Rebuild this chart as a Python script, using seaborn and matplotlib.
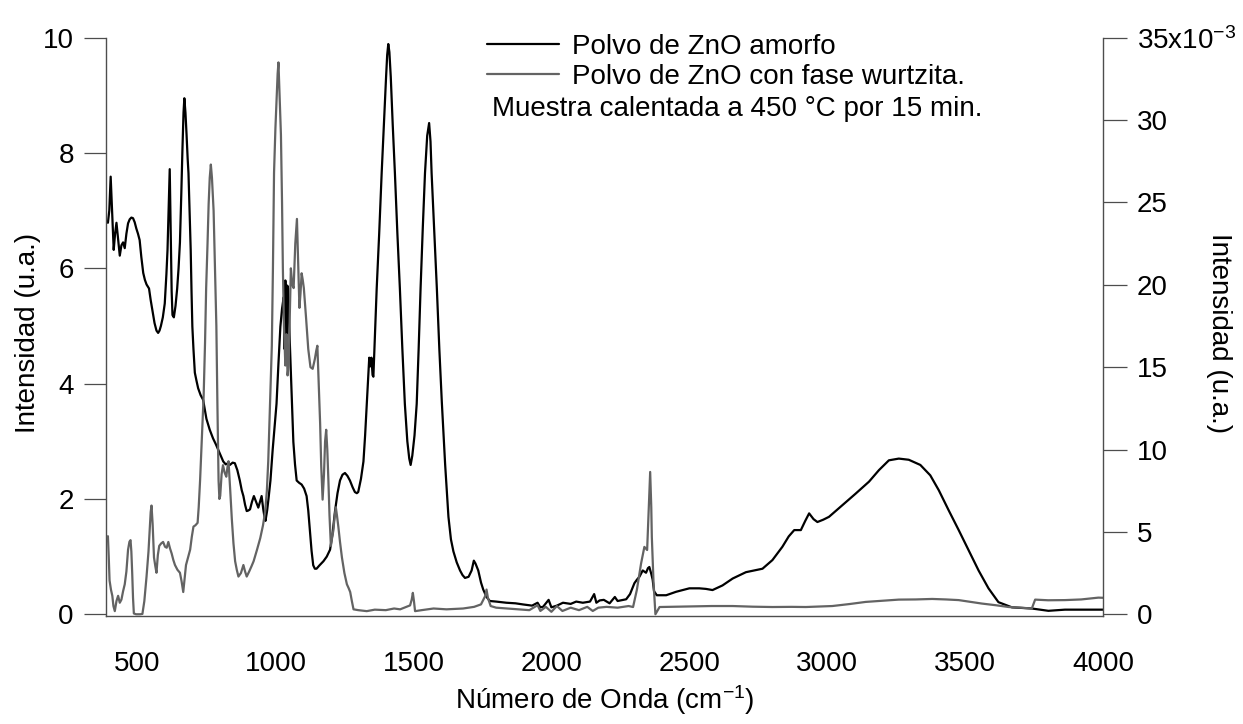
import matplotlib
matplotlib.use("Agg")
import matplotlib.pyplot as plt
import seaborn as sns
import pandas as pd

# ---------------- data ----------------
amorfo_x = [393, 398, 403, 408, 414, 419, 424, 430, 436, 442, 448, 454, 460, 466, 472, 478, 484, 490, 496, 502,
            508, 514, 521, 527, 533, 538, 542, 548, 555, 562, 569, 575, 580, 585, 592, 599, 605, 609, 613, 617,
            620, 624, 627, 632, 638, 644, 649, 654, 659, 663, 667, 670, 674, 678, 682, 685, 689, 693, 696, 699,
            703, 708, 714, 720, 729, 738, 744, 750, 762, 774, 784, 793, 802, 811, 820, 828, 835, 845, 853, 862,
            871, 878, 884, 890, 896, 902, 908, 915, 922, 930, 938, 944, 950, 956, 960, 964, 970, 976, 982, 990,
            997, 1004, 1011, 1018, 1024, 1030, 1033, 1036, 1040, 1043, 1046, 1050, 1055, 1060, 1065, 1071, 1077,
            1086, 1095, 1104, 1113, 1119, 1125, 1131, 1137, 1143, 1149, 1160, 1174, 1186, 1198, 1207, 1216, 1225,
            1234, 1243, 1252, 1261, 1270, 1280, 1288, 1295, 1300, 1310, 1319, 1325, 1331, 1336, 1340, 1344, 1348,
            1352, 1355, 1361, 1367, 1376, 1385, 1393, 1401, 1405, 1409, 1413, 1418, 1425, 1433, 1442, 1451, 1460,
            1469, 1478, 1485, 1490, 1496, 1504, 1512, 1519, 1526, 1534, 1542, 1550, 1557, 1562, 1566, 1575, 1585,
            1594, 1603, 1615, 1627, 1636, 1645, 1657, 1669, 1678, 1687, 1700, 1711, 1719, 1725, 1735, 1745, 1753,
            1765, 1777, 1800, 1837, 1870, 1898, 1930, 1950, 1960, 1970, 1990, 2000, 2020, 2042, 2070, 2090, 2114,
            2140, 2155, 2163, 2175, 2190, 2211, 2230, 2240, 2260, 2271, 2285, 2301, 2310, 2319, 2331, 2343, 2350,
            2355, 2362, 2367, 2372, 2382, 2400, 2416, 2452, 2500, 2536, 2560, 2584, 2620, 2657, 2705, 2765, 2801,
            2837, 2860, 2880, 2904, 2920, 2934, 2950, 2964, 2985, 3006, 3054, 3102, 3151, 3187, 3223, 3259, 3295,
            3337, 3373, 3404, 3440, 3476, 3512, 3548, 3584, 3620, 3669, 3741, 3801, 3861, 3920, 3982, 4000]
amorfo_y = [6.79, 7.0, 7.59, 7.0, 6.32, 6.6, 6.79, 6.5, 6.22, 6.4, 6.45, 6.35, 6.6, 6.78, 6.85, 6.88, 6.87, 6.8, 6.69, 6.6,
            6.49, 6.2, 5.92, 5.8, 5.72, 5.68, 5.65, 5.45, 5.25, 5.05, 4.92, 4.88, 4.92, 5.0, 5.15, 5.39, 5.9, 6.32, 7.0, 7.72,
            6.8, 5.6, 5.19, 5.15, 5.35, 5.65, 6.0, 6.45, 7.3, 8.05, 8.7, 8.95, 8.7, 8.32, 7.9, 7.65, 7.0, 6.32, 5.6, 4.99,
            4.6, 4.19, 4.05, 3.92, 3.8, 3.72, 3.55, 3.39, 3.2, 3.05, 2.95, 2.85, 2.75, 2.65, 2.6, 2.62, 2.59, 2.63, 2.62, 2.5,
            2.32, 2.15, 2.05, 1.9, 1.79, 1.8, 1.82, 1.95, 2.05, 1.95, 1.85, 1.95, 2.05, 1.82, 1.7, 1.62, 1.8, 2.05, 2.32, 2.85,
            3.25, 3.65, 4.35, 4.99, 5.3, 5.5, 4.6, 5.79, 4.7, 5.7, 5.65, 5.0, 4.32, 3.6, 2.99, 2.6, 2.32,
            2.28, 2.25, 2.18, 2.05, 1.8, 1.45, 1.1, 0.85, 0.79, 0.79, 0.85, 0.92, 1.0, 1.12, 1.4, 1.79, 2.1,
            2.32, 2.42, 2.45, 2.4, 2.32, 2.2, 2.12, 2.1, 2.12, 2.35, 2.65, 3.1, 3.65, 4.1, 4.45, 4.3, 4.45,
            4.15, 4.12, 4.9, 5.65, 6.6, 7.65, 8.5, 9.32, 9.7, 9.89, 9.75, 9.32, 8.5, 7.65, 6.6, 5.65, 4.6,
            3.65, 3.0, 2.7, 2.59, 2.75, 3.1, 3.65, 4.6, 5.65, 6.7, 7.65, 8.3, 8.52, 8.2, 7.65, 6.7, 5.65,
            4.6, 3.68, 2.6, 1.69, 1.3, 1.09, 0.9, 0.76, 0.68, 0.63, 0.65, 0.76, 0.93, 0.88, 0.76, 0.55, 0.43,
            0.3, 0.23, 0.22, 0.2, 0.19, 0.17, 0.15, 0.2, 0.12, 0.13, 0.25, 0.12, 0.15, 0.2, 0.18, 0.22, 0.2,
            0.22, 0.35, 0.2, 0.24, 0.25, 0.19, 0.3, 0.23, 0.25, 0.26, 0.35, 0.54, 0.6, 0.65, 0.76, 0.72, 0.8,
            0.82, 0.7, 0.6, 0.4, 0.33, 0.33, 0.33, 0.39, 0.45, 0.45, 0.44, 0.42, 0.5, 0.62, 0.73, 0.79, 0.94,
            1.17, 1.35, 1.46, 1.46, 1.62, 1.75, 1.65, 1.6, 1.64, 1.69, 1.89, 2.09, 2.3, 2.5, 2.67, 2.7, 2.68,
            2.59, 2.41, 2.15, 1.8, 1.46, 1.11, 0.76, 0.45, 0.21, 0.12, 0.1, 0.06, 0.08, 0.08, 0.08, 0.08]

wurtz_x = [393, 396, 399, 404, 409, 413, 418, 424, 430, 436, 442, 448, 454, 460, 466, 471, 475, 478, 481, 484,
           487, 495, 502, 510, 518, 525, 533, 540, 545, 548, 551, 555, 560, 565, 569, 574, 579, 586, 593, 600,
           606, 612, 618, 624, 630, 636, 645, 654, 660, 666, 671, 676, 684, 691, 697, 703, 710, 718, 722, 727,
           733, 740, 745, 749, 754, 758, 762, 766, 770, 776, 781, 786, 790, 794, 797, 800, 805, 810, 816, 822,
           826, 830, 836, 842, 848, 854, 860, 866, 875, 884, 890, 896, 905, 913, 921, 933, 945, 955, 963, 969,
           974, 980, 987, 991, 995, 1000, 1005, 1008, 1011, 1015, 1020, 1024, 1027, 1031, 1036, 1040, 1044, 1048,
           1052, 1056, 1061, 1066, 1072, 1078, 1082, 1087, 1091, 1095, 1099, 1103, 1111, 1119, 1127, 1135, 1143,
           1148, 1152, 1157, 1162, 1166, 1171, 1176, 1180, 1184, 1188, 1192, 1196, 1201, 1205, 1210, 1215, 1219,
           1223, 1228, 1234, 1241, 1250, 1259, 1265, 1271, 1277, 1283, 1300, 1331, 1360, 1400, 1430, 1452, 1475,
           1488, 1494, 1498, 1502, 1506, 1530, 1573, 1620, 1680, 1720, 1745, 1760, 1765, 1770, 1780, 1800, 1840,
           1880, 1920, 1950, 1960, 1980, 2000, 2020, 2040, 2070, 2100, 2130, 2150, 2170, 2200, 2240, 2280, 2296,
           2310, 2325, 2337, 2347, 2352, 2358, 2362, 2364, 2370, 2377, 2392, 2450, 2500, 2580, 2657, 2730, 2801,
           2870, 2922, 3018, 3080, 3139, 3200, 3259, 3320, 3380, 3430, 3476, 3520, 3560, 3610, 3657, 3700, 3741,
           3753, 3800, 3861, 3920, 3982, 4000]
wurtz_y = [4.74, 3.5, 2.05, 1.5, 1.12, 0.5, 0.19, 0.8, 1.12, 0.7, 0.89, 1.4, 1.82, 2.6, 3.92, 4.4, 4.5, 3.8, 2.52, 1.0,
           0.05, 0.0, 0.0, 0.0, 0.02, 0.8, 2.29, 3.8, 5.32, 6.2, 6.6, 5.5, 3.45, 2.9, 2.52, 3.6, 4.15, 4.3, 4.39, 4.1,
           4.04, 4.39, 4.0, 3.69, 3.3, 2.99, 2.7, 2.52, 2.0, 1.35, 2.2, 2.99, 3.5, 3.92, 4.7, 5.32, 5.4, 5.55, 6.5, 8.12,
           10.5, 13.3, 16.5, 19.8, 22.5, 24.9, 26.5, 27.3, 26.5, 24.5, 21.0, 17.5, 12.5, 8.12, 7.0, 7.19, 8.5, 9.05, 8.6, 8.35,
           8.9, 9.29, 7.6, 5.79, 4.3, 3.22, 2.7, 2.29, 2.5, 2.99, 2.6, 2.29, 2.6, 2.9, 3.22, 3.9, 4.62, 5.4, 6.25, 7.5,
           9.29, 12.5, 16.3, 21.0, 26.8, 29.5, 31.5, 32.8, 33.5, 31.5, 29.1, 25.0, 21.0, 17.5, 15.1, 17.0, 14.5, 15.1,
           18.0, 21.0, 20.0, 19.8, 22.5, 24.0, 21.5, 18.6, 19.5, 20.7, 20.3, 19.8, 18.0, 16.1, 15.0, 14.9, 15.5,
           16.0, 16.3, 14.0, 11.6, 9.0, 6.96, 8.5, 10.5, 11.2, 10.0, 8.12, 6.0, 4.15, 4.6, 5.09, 6.0, 6.49,
           6.0, 5.32, 4.4, 3.45, 2.5, 1.82, 1.6, 1.35, 0.8, 0.3, 0.25, 0.19, 0.28, 0.25, 0.35, 0.3, 0.45,
           0.54, 0.9, 1.3, 0.8, 0.19, 0.25, 0.35, 0.3, 0.35, 0.45, 0.6, 1.1, 1.5, 1.0, 0.5, 0.4, 0.35,
           0.3, 0.25, 0.55, 0.2, 0.45, 0.15, 0.5, 0.2, 0.4, 0.25, 0.45, 0.2, 0.4, 0.45, 0.4, 0.5, 0.44,
           1.5, 3.08, 4.09, 3.9, 6.0, 8.64, 6.5, 4.7, 2.0, 0.0, 0.44, 0.46, 0.48, 0.5, 0.5, 0.46, 0.44,
           0.45, 0.44, 0.5, 0.62, 0.75, 0.82, 0.89, 0.9, 0.93, 0.9, 0.86, 0.75, 0.65, 0.55, 0.44, 0.4, 0.35,
           0.89, 0.85, 0.86, 0.9, 1.01, 1.0]

x_ticks = [500, 1000, 1500, 2000, 2500, 3000, 3500, 4000]
left_ticks = [0, 2, 4, 6, 8, 10]
right_ticks = [0, 5, 10, 15, 20, 25, 30, 35]
right_tick_labels = ["0", "5", "10", "15", "20", "25", "30", "35x10$^{\\mathrm{-3}}$"]

label_amorfo = "Polvo de ZnO amorfo"
label_wurtz = "Polvo de ZnO con fase wurtzita."
note_text = "Muestra calentada a 450 °C por 15 min."
x_label = "Número de Onda (cm$^{\\mathrm{-1}}$)"
y_label = "Intensidad (u.a.)"

# ---------------- style ----------------
sns.set_theme(style="white")
plt.rcParams["font.family"] = ["Liberation Sans", "DejaVu Sans"]
plt.rcParams["mathtext.fontset"] = "custom"
plt.rcParams["mathtext.rm"] = "Liberation Sans"
plt.rcParams["mathtext.it"] = "Liberation Sans:italic"
plt.rcParams["mathtext.bf"] = "Liberation Sans:bold"
plt.rcParams["axes.unicode_minus"] = False
plt.rcParams["text.color"] = "black"
plt.rcParams["axes.labelcolor"] = "black"
plt.rcParams["xtick.color"] = "black"
plt.rcParams["ytick.color"] = "black"

W, H = 1243, 724
FS = 20
spine_col = "#4d4d4d"
gray_col = "#636363"

fig = plt.figure(figsize=(W / 100, H / 100), dpi=100)
ax_l, ax_r, ax_t, ax_b = 105.7, 1103.3, 37.7, 616.0
ax = fig.add_axes([ax_l / W, 1 - ax_b / H, (ax_r - ax_l) / W, (ax_b - ax_t) / H])
ax2 = ax.twinx()

df_a = pd.DataFrame({"wavenumber": amorfo_x, "intensity": amorfo_y})
df_w = pd.DataFrame({"wavenumber": wurtz_x, "intensity": [v * 1e-3 for v in wurtz_y]})

sns.lineplot(data=df_a, x="wavenumber", y="intensity", ax=ax, color="black",
             lw=1.6, sort=False, estimator=None, legend=False)
sns.lineplot(data=df_w, x="wavenumber", y="intensity", ax=ax2, color=gray_col,
             lw=1.6, sort=False, estimator=None, legend=False)

ax.set_xlim(385, 4000)
ax.set_ylim(-0.03, 10)
ax2.set_ylim(-0.105e-3, 35e-3)

ax.set_xticks(x_ticks)
ax.set_xticklabels([str(t) for t in x_ticks])
ax.set_yticks(left_ticks)
ax.set_yticklabels([str(t) for t in left_ticks])
ax2.set_yticks([t * 1e-3 for t in right_ticks])
ax2.set_yticklabels(right_tick_labels)

for a in (ax, ax2):
    a.grid(False)
    a.set_facecolor("none")
    for s in a.spines.values():
        s.set_color(spine_col)
        s.set_linewidth(1.0)
    a.spines["top"].set_visible(False)
ax.spines["right"].set_visible(False)
ax2.spines["left"].set_visible(False)
ax2.spines["bottom"].set_visible(False)

ax.tick_params(axis="x", direction="out", length=16, width=0.9, color=spine_col,
               labelsize=FS, pad=9, labelcolor="black")
ax.tick_params(axis="y", direction="out", length=16, width=0.9, color=spine_col,
               labelsize=FS, pad=7, labelcolor="black")
ax2.tick_params(axis="y", direction="out", length=17, width=0.9, color=spine_col,
                labelsize=FS, pad=7, labelcolor="black")

ax.set_xlabel(x_label, fontsize=FS, color="black")
ax.xaxis.label.set_verticalalignment("center")
ax.xaxis.set_label_coords(0.5, (ax_b - 700) / (ax_b - ax_t))

ax.set_ylabel(y_label, fontsize=FS, color="black")
ax.yaxis.label.set_verticalalignment("center")
ax.yaxis.set_label_coords((28 - ax_l) / (ax_r - ax_l), 0.49)

ax2.set_ylabel(y_label, fontsize=FS, rotation=-90, color="black")
ax2.yaxis.label.set_verticalalignment("center")
ax2.yaxis.set_label_coords((1219 - ax_l) / (ax_r - ax_l), 0.49)

handles = [ax.lines[0], ax2.lines[0]]
leg = ax2.legend(handles, [label_amorfo, label_wurtz], loc="upper left",
                 bbox_to_anchor=(487 / W, 1 - 34 / H), bbox_transform=fig.transFigure,
                 frameon=False, fontsize=FS, handlelength=2.6, handletextpad=0.45,
                 labelspacing=0.15, borderpad=0, borderaxespad=0, labelcolor="black")

fig.text(492 / W, 1 - 109 / H, note_text, fontsize=FS, ha="left", va="center", color="black")

fig.savefig("out.png", dpi=100)
